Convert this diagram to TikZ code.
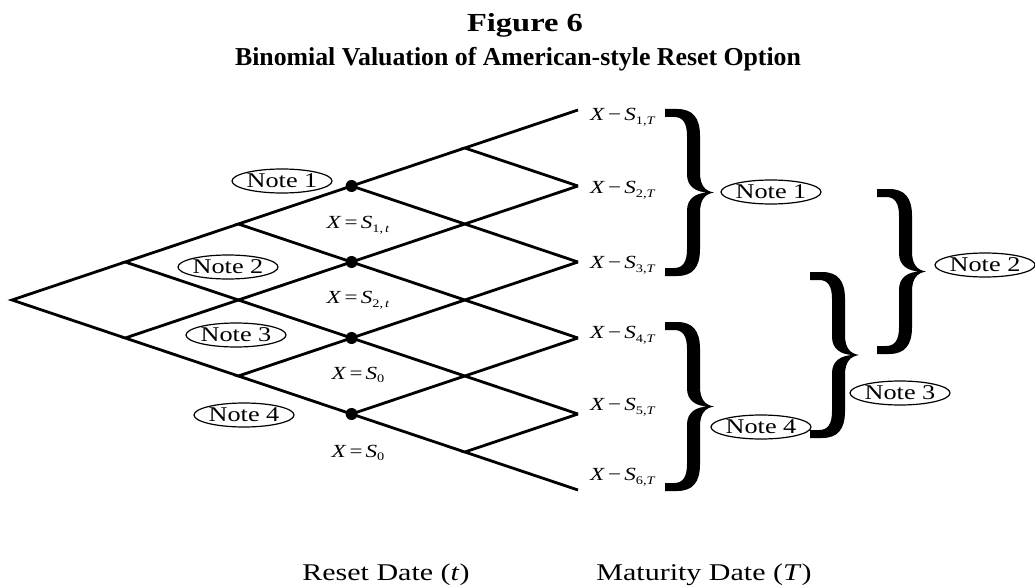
\documentclass[tikz,border=0pt]{standalone}
\usepackage{fontspec}
\setmainfont{Liberation Serif}
\newfontfamily\stretchfont[FakeStretch=1.25]{Liberation Serif}
\usetikzlibrary{shapes.geometric}
\newcommand\notefont{\stretchfont\fontsize{21}{21}\selectfont}
\newcommand\labfont{\stretchfont\fontsize{18.5}{18.5}\selectfont}
\newcommand\sbs[1]{\raisebox{-0.45ex}{\fontsize{11.5}{11.5}\selectfont #1}}
\newcommand\RBrace[3]{%
  \pgfmathsetmacro\bm{(#3-#2)/2}%
  \begin{scope}[shift={(#1,#2)}]
    \fill (0,-1) -- (12,-1) .. controls (28,-1) and (35,8) .. (35,26)
      -- (35,\bm-20) .. controls (35,\bm-7) and (40,\bm-1.5) .. (49,\bm)
      .. controls (40,\bm+1.5) and (35,\bm+7) .. (35,\bm+20)
      -- (35,2*\bm-26) .. controls (35,2*\bm-8) and (28,2*\bm+1) .. (12,2*\bm+1)
      -- (0,2*\bm+1) -- (0,2*\bm-7) -- (9,2*\bm-7)
      .. controls (18,2*\bm-7) and (22,2*\bm-13) .. (22,2*\bm-26)
      -- (22,\bm+18) .. controls (22,\bm+6) and (31,\bm) .. (44,\bm)
      .. controls (31,\bm) and (22,\bm-6) .. (22,\bm-18)
      -- (22,26) .. controls (22,13) and (18,7) .. (9,7) -- (0,7) -- cycle;
  \end{scope}}
\tikzset{
  edge/.style={line width=2.8pt},
  note/.style={draw, ellipse, line width=1.2pt, minimum width=100pt, minimum height=24pt, inner sep=0pt, font=\notefont},
  dot/.style={circle, fill, inner sep=0pt, minimum size=12pt},
  lab/.style={font=\labfont, inner sep=0pt},
  ttla/.style={font=\stretchfont\bfseries\fontsize{26}{26}\selectfont, inner sep=0pt, anchor=base},
  ttlb/.style={font=\bfseries\fontsize{25.8}{25.8}\selectfont, inner sep=0pt, anchor=base},
  axis/.style={font=\stretchfont\fontsize{24}{24}\selectfont, inner sep=0pt, anchor=base}
}
\begin{document}
\begin{tikzpicture}[x=1pt,y=-1pt]
\useasboundingbox (0,0) rectangle (1035,588);
% title
\node[ttla] (t1) at (525,32) {Figure 6};
\node[ttlb] (t2) at (518,66) {Binomial Valuation of American-style Reset Option};
% lattice
\foreach \k in {0,...,5}{
  \foreach \j in {0,...,\k}{
    \coordinate (n\k\j) at ({12+113.2*\k},{300+38*(2*\j-\k)});
  }
}
\foreach \k in {0,...,4}{
  \pgfmathtruncatemacro\kn{\k+1}
  \foreach \j in {0,...,\k}{
    \pgfmathtruncatemacro\jn{\j+1}
    \draw[edge] (n\kn\j) -- (n\k\j) -- (n\kn\jn);
  }
}
\foreach \j in {0,...,3}{ \node[dot] (d\j) at (n3\j) {}; }
% reset labels
\node[lab] (r1) at (358,225) {\textit{X}\,=\,\textit{S}\sbs{1,\,\textit{t}}};
\node[lab] (r2) at (358,300) {\textit{X}\,=\,\textit{S}\sbs{2,\,\textit{t}}};
\node[lab] (r3) at (358,375) {\textit{X}\,=\,\textit{S}\sbs{0}};
\node[lab] (r4) at (358,453) {\textit{X}\,=\,\textit{S}\sbs{0}};
% maturity labels
\foreach \i/\y in {1/117,2/190,3/265,4/335,5/407,6/477}{
  \node[lab, anchor=west] (m\i) at (590,\y) {\textit{X}\,\textminus\,\textit{S}\sbs{\i,\textit{T}}};
}
% notes on the lattice
\node[note] (a1) at (282,181) {Note 1};
\node[note] (a2) at (228,267) {Note 2};
\node[note] (a3) at (236,335) {Note 3};
\node[note] (a4) at (244,415) {Note 4};
% braces
\RBrace{665}{110}{275}
\RBrace{665}{323}{490}
\RBrace{810}{273}{437}
\RBrace{877}{190}{353}
\node[note] (b1) at (771,192) {Note 1};
\node[note] (b4) at (761,427) {Note 4};
\node[note] (b3) at (900,393) {Note 3};
\node[note, minimum width=93pt] (b2) at (985,265) {Note 2};
% axis labels
\node[axis] (x1) at (386,580) {Reset Date (\textit{t})};
\node[axis] (x2) at (704,580) {Maturity Date (\textit{T})};
\end{tikzpicture}
\end{document}
